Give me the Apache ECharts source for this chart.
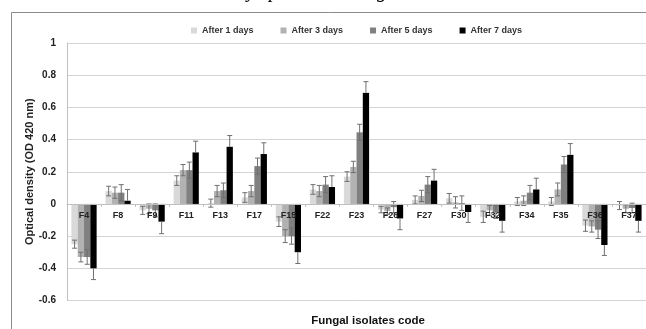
<!DOCTYPE html>
<html>
<head>
<meta charset="utf-8">
<script src="https://cdn.jsdelivr.net/npm/echarts@6/dist/echarts.min.js"></script>
<style>
html,body{margin:0;padding:0;background:#fff;}
#chart{width:646px;height:329px;}
</style>
</head>
<body>
<div id="chart"></div>
<script>
const categories = ['F4','F8','F9','F11','F13','F17','F15','F22','F23','F26','F27','F30','F32','F34','F35','F36','F37'];
const seriesNames = ['After 1 days','After 3 days','After 5 days','After 7 days'];
const day1 = [-0.25, 0.08, -0.04, 0.145, 0.005, 0.04, -0.11, 0.09, 0.17, -0.035, 0.025, 0.035, -0.08, 0.015, 0.015, -0.135, -0.01];
const day3 = [-0.33, 0.07, -0.03, 0.21, 0.08, 0.08, -0.20, 0.08, 0.23, -0.045, 0.05, 0.01, -0.04, 0.02, 0.09, -0.14, -0.03];
const day5 = [-0.33, 0.07, -0.04, 0.21, 0.085, 0.235, -0.20, 0.12, 0.445, -0.02, 0.12, 0.005, -0.05, 0.07, 0.245, -0.16, -0.025];
const day7 = [-0.40, 0.02, -0.11, 0.32, 0.355, 0.31, -0.30, 0.105, 0.69, -0.09, 0.145, -0.05, -0.105, 0.09, 0.305, -0.255, -0.105];
const err1 = [0.025, 0.03, 0.025, 0.03, 0.025, 0.03, 0.03, 0.03, 0.03, 0.02, 0.025, 0.03, 0.035, 0.025, 0.025, 0.035, 0.025];
const err3 = [0.03, 0.035, 0.03, 0.035, 0.035, 0.035, 0.04, 0.035, 0.035, 0.02, 0.035, 0.035, 0.03, 0.03, 0.04, 0.035, 0.025];
const err5 = [0.045, 0.05, 0.04, 0.05, 0.045, 0.05, 0.05, 0.05, 0.05, 0.035, 0.05, 0.045, 0.04, 0.045, 0.05, 0.055, 0.03];
const err7 = [0.07, 0.07, 0.075, 0.07, 0.07, 0.07, 0.07, 0.07, 0.07, 0.07, 0.07, 0.065, 0.07, 0.07, 0.07, 0.065, 0.07];

const values = [day1, day3, day5, day7];
const errors = [err1, err3, err5, err7];
const colors = ['#d9d9d9', '#b2b2b2', '#808080', '#000000'];
const BW = 6.3;
const FONT = '"Liberation Sans", Arial, sans-serif';
const Y_MIN = -0.6, Y_MAX = 1;
const GRID_TOP = 43, GRID_H = 257.5;

function errRenderer(idx, outwardOnly) {
  return function (params, api) {
    const ci = api.value(0), v = api.value(1), e = api.value(2);
    const x = api.coord([ci, 0])[0] + (idx - 1.5) * BW;
    let hi = v + e, lo = v - e;
    let capHi = true, capLo = true;
    if (outwardOnly) {
      if (v >= 0) { lo = v; capLo = false; } else { hi = v; capHi = false; }
    }
    const yHi = api.coord([ci, hi])[1];
    const yLo = api.coord([ci, lo])[1];
    const st = { stroke: '#707070', lineWidth: 1 };
    const ch = [{ type: 'line', shape: { x1: x, y1: yHi, x2: x, y2: yLo }, style: st }];
    if (capHi) ch.push({ type: 'line', shape: { x1: x - 2.5, y1: yHi, x2: x + 2.5, y2: yHi }, style: st });
    if (capLo) ch.push({ type: 'line', shape: { x1: x - 2.5, y1: yLo, x2: x + 2.5, y2: yLo }, style: st });
    return { type: 'group', children: ch };
  };
}

const series = [];
values.forEach((arr, i) => {
  series.push({
    name: seriesNames[i], type: 'bar', data: arr, barWidth: BW, barGap: '0%',
    itemStyle: { color: colors[i] }, z: 2, animation: false
  });
});
values.forEach((arr, i) => {
  series.push({
    type: 'custom', z: 3, silent: true, animation: false,
    renderItem: errRenderer(i, i === 3),
    data: arr.map((v, k) => [k, v, errors[i][k]])
  });
});

// distance from grid bottom up to the zero line, derived from axis range
const zeroOffset = GRID_H * (0 - Y_MIN) / (Y_MAX - Y_MIN);

const chart = echarts.init(document.getElementById('chart'), null, { renderer: 'canvas' });
chart.setOption({
  animation: false,
  backgroundColor: '#fff',
  grid: { left: 67, top: GRID_TOP, width: 588, height: GRID_H, containLabel: false },
  legend: {
    data: seriesNames, left: 186, top: 21, icon: 'rect', itemWidth: 6, itemHeight: 6, itemGap: 27,
    textStyle: { fontSize: 9, fontWeight: 'bold', color: '#333', fontFamily: FONT }
  },
  xAxis: {
    type: 'category', data: categories, z: 10, position: 'bottom', offset: -zeroOffset,
    axisLine: { onZero: false, lineStyle: { color: '#c0c0c0', width: 1 } },
    axisTick: { show: true, length: 3, interval: 0, lineStyle: { color: '#c0c0c0' } },
    axisLabel: { interval: 0, margin: 7, fontSize: 9, fontWeight: 'bold', color: '#222', fontFamily: FONT },
    splitLine: { show: false }
  },
  yAxis: {
    type: 'value', min: Y_MIN, max: Y_MAX, interval: 0.2,
    name: 'Optical density (OD 420 nm)', nameLocation: 'middle', nameGap: 32, nameRotate: 90,
    nameMoveOverlap: false,
    nameTextStyle: { fontSize: 11, fontWeight: 'bold', color: '#222', fontFamily: FONT },
    axisLine: { show: true, lineStyle: { color: '#c0c0c0' } },
    axisTick: { show: false },
    axisLabel: { margin: 11, fontSize: 10, fontWeight: 'bold', color: '#222', fontFamily: FONT },
    splitLine: { lineStyle: { color: '#d4d4d4', width: 1 } }
  },
  graphic: [
    { type: 'rect', left: 9, top: 10, shape: { width: 700, height: 400 }, style: { fill: 'none', stroke: '#8a8a8a', lineWidth: 1 }, z: 0 },
    { type: 'text', x: 368, y: 321, style: { text: 'Fungal isolates code', font: 'bold 11.5px ' + FONT, fill: '#111', align: 'center', verticalAlign: 'middle' } },
    { type: 'text', x: 247, y: -8, style: { text: 'y', font: 'italic 20px "Liberation Serif", serif', fill: '#000', align: 'left', verticalAlign: 'middle' } },
    { type: 'text', x: 269, y: -8, style: { text: 'p', font: 'italic 20px "Liberation Serif", serif', fill: '#000', align: 'left', verticalAlign: 'middle' } },
    { type: 'text', x: 377, y: -8, style: { text: 'g', font: 'italic 20px "Liberation Serif", serif', fill: '#000', align: 'left', verticalAlign: 'middle' } }
  ],
  series: series
});
</script>
</body>
</html>
